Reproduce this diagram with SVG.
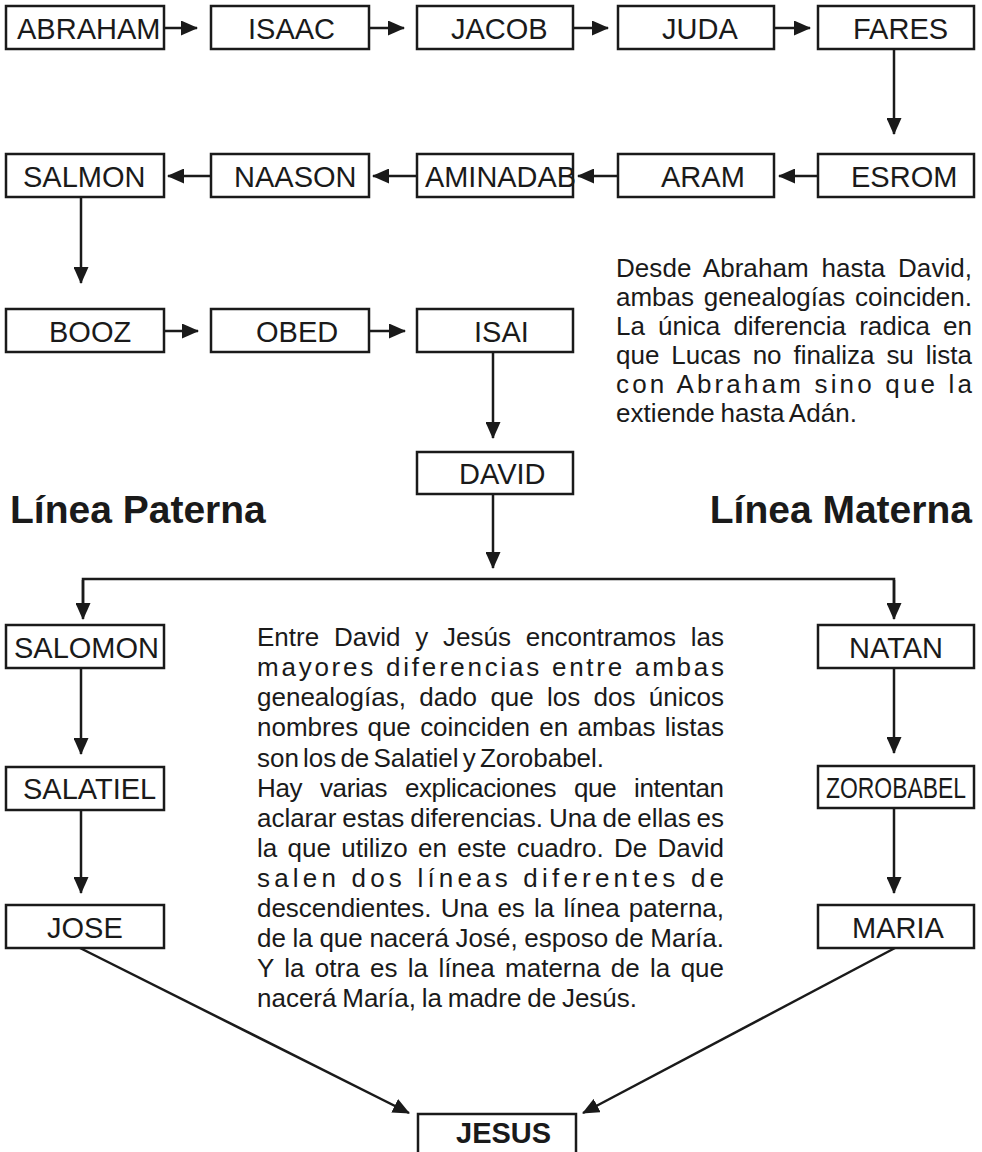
<svg xmlns="http://www.w3.org/2000/svg" width="982" height="1152" viewBox="0 0 982 1152">
<style>
.box{fill:#fff;stroke:#1a1a1a;stroke-width:2.5}
.lbl{font-family:"Liberation Sans",Arial,sans-serif;font-size:29px;fill:#1a1a1a}
.b{font-weight:bold}
.ln{fill:none;stroke:#1a1a1a;stroke-width:2.5}
.arr{marker-end:url(#ah)}
.par{font-family:"Liberation Sans",Arial,sans-serif;font-size:26px;fill:#1a1a1a}
.hd{font-family:"Liberation Sans",Arial,sans-serif;font-size:39px;font-weight:bold;fill:#1a1a1a}
</style>
<defs>
<marker id="ah" markerUnits="userSpaceOnUse" markerWidth="17" markerHeight="15" viewBox="0 0 17 15" refX="16" refY="7.5" orient="auto">
<path d="M0,0 L17,7.5 L0,15 z" fill="#1a1a1a"/>
</marker>
</defs>
<rect width="982" height="1152" fill="#fff"/>
<g id="connectors">
<line class="ln arr" x1="164" y1="28" x2="197" y2="28"/>
<line class="ln arr" x1="369" y1="28" x2="404" y2="28"/>
<line class="ln arr" x1="573" y1="28" x2="608" y2="28"/>
<line class="ln arr" x1="774" y1="28" x2="810" y2="28"/>
<line class="ln arr" x1="894" y1="49" x2="894" y2="134"/>
<line class="ln arr" x1="818" y1="176" x2="779" y2="176"/>
<line class="ln arr" x1="618" y1="176" x2="578" y2="176"/>
<line class="ln arr" x1="417" y1="176" x2="373" y2="176"/>
<line class="ln arr" x1="211" y1="176" x2="168" y2="176"/>
<line class="ln arr" x1="81" y1="197" x2="81" y2="283"/>
<line class="ln arr" x1="164" y1="331" x2="198" y2="331"/>
<line class="ln arr" x1="369" y1="331" x2="405" y2="331"/>
<line class="ln arr" x1="493" y1="352" x2="493" y2="438"/>
<line class="ln arr" x1="493" y1="494" x2="493" y2="568"/>
<path class="ln" d="M83,605 V579 H894 V605"/>
<line class="ln arr" x1="83" y1="580" x2="83" y2="619"/>
<line class="ln arr" x1="894" y1="580" x2="894" y2="619"/>
<line class="ln arr" x1="81" y1="668" x2="81" y2="754"/>
<line class="ln arr" x1="81" y1="810" x2="81" y2="893"/>
<line class="ln arr" x1="894" y1="668" x2="894" y2="753"/>
<line class="ln arr" x1="894" y1="808" x2="894" y2="893"/>
<line class="ln arr" x1="80" y1="948" x2="409" y2="1113"/>
<line class="ln arr" x1="895" y1="948" x2="583" y2="1113"/>
</g>
<g id="abraham"><rect class="box" x="6" y="6" width="158" height="43"/><text class="lbl" x="17" y="39">ABRAHAM</text></g>
<g id="isaac"><rect class="box" x="211" y="6" width="158" height="43"/><text class="lbl" x="248" y="39">ISAAC</text></g>
<g id="jacob"><rect class="box" x="417" y="6" width="156" height="43"/><text class="lbl" x="451" y="39">JACOB</text></g>
<g id="juda"><rect class="box" x="618" y="6" width="156" height="43"/><text class="lbl" x="662" y="39">JUDA</text></g>
<g id="fares"><rect class="box" x="818" y="6" width="156" height="43"/><text class="lbl" x="853" y="39">FARES</text></g>
<g id="esrom"><rect class="box" x="818" y="154" width="156" height="43"/><text class="lbl" x="851" y="187">ESROM</text></g>
<g id="aram"><rect class="box" x="618" y="154" width="156" height="43"/><text class="lbl" x="661" y="187">ARAM</text></g>
<g id="aminadab"><rect class="box" x="417" y="154" width="156" height="43"/><text class="lbl" x="425" y="187" textLength="151" lengthAdjust="spacingAndGlyphs">AMINADAB</text></g>
<g id="naason"><rect class="box" x="211" y="154" width="158" height="43"/><text class="lbl" x="234" y="187">NAASON</text></g>
<g id="salmon"><rect class="box" x="6" y="154" width="158" height="43"/><text class="lbl" x="23" y="187">SALMON</text></g>
<g id="booz"><rect class="box" x="6" y="309" width="158" height="43"/><text class="lbl" x="49" y="342">BOOZ</text></g>
<g id="obed"><rect class="box" x="211" y="309" width="158" height="43"/><text class="lbl" x="256" y="342">OBED</text></g>
<g id="isai"><rect class="box" x="417" y="309" width="156" height="43"/><text class="lbl" x="474" y="342">ISAI</text></g>
<g id="david"><rect class="box" x="417" y="452" width="156" height="42"/><text class="lbl" x="459" y="484">DAVID</text></g>
<g id="salomon"><rect class="box" x="6" y="625" width="158" height="43"/><text class="lbl" x="14" y="658">SALOMON</text></g>
<g id="salatiel"><rect class="box" x="6" y="767" width="158" height="43"/><text class="lbl" x="23" y="799">SALATIEL</text></g>
<g id="jose"><rect class="box" x="6" y="905" width="158" height="43"/><text class="lbl" x="47" y="938">JOSE</text></g>
<g id="natan"><rect class="box" x="818" y="625" width="156" height="43"/><text class="lbl" x="849" y="658">NATAN</text></g>
<g id="zorobabel"><rect class="box" x="818" y="766" width="156" height="42"/><text class="lbl" x="826" y="798" font-size="28" textLength="140" lengthAdjust="spacingAndGlyphs">ZOROBABEL</text></g>
<g id="maria"><rect class="box" x="818" y="905" width="156" height="43"/><text class="lbl" x="852" y="938">MARIA</text></g>
<g id="jesus"><rect class="box" x="418" y="1114" width="158" height="46"/><text class="lbl b" x="456" y="1143">JESUS</text></g>
<g id="headings">
<text class="hd" x="10" y="523">Línea Paterna</text>
<text class="hd" x="972" y="523" text-anchor="end">Línea Materna</text>
</g>
<g id="note-top">
<text class="par" x="616" y="277" word-spacing="5.5" textLength="356" lengthAdjust="spacing">Desde Abraham hasta David,</text>
<text class="par" x="616" y="306" word-spacing="2.5" textLength="356" lengthAdjust="spacing">ambas genealogías coinciden.</text>
<text class="par" x="616" y="335" word-spacing="6" textLength="356" lengthAdjust="spacing">La única diferencia radica en</text>
<text class="par" x="616" y="364" word-spacing="4.8" textLength="356" lengthAdjust="spacing">que Lucas no finaliza su lista</text>
<text class="par" x="616" y="393" textLength="356" lengthAdjust="spacing">con Abraham sino que la</text>
<text class="par" x="616" y="422" word-spacing="-1.5" textLength="241" lengthAdjust="spacing">extiende hasta Adán.</text>
</g>
<g id="note-middle">
<text class="par" x="257" y="646" word-spacing="7.6" textLength="467" lengthAdjust="spacing">Entre David y Jesús encontramos las</text>
<text class="par" x="257" y="676" textLength="467" lengthAdjust="spacing">mayores diferencias entre ambas</text>
<text class="par" x="257" y="706" word-spacing="6.1" textLength="467" lengthAdjust="spacing">genealogías, dado que los dos únicos</text>
<text class="par" x="257" y="736" word-spacing="2.1" textLength="467" lengthAdjust="spacing">nombres que coinciden en ambas listas</text>
<text class="par" x="257" y="767" word-spacing="-3" textLength="347" lengthAdjust="spacing">son los de Salatiel y Zorobabel.</text>
<text class="par" x="257" y="797" word-spacing="11" textLength="467" lengthAdjust="spacing">Hay varias explicaciones que intentan</text>
<text class="par" x="257" y="827" word-spacing="-1.3" textLength="467" lengthAdjust="spacing">aclarar estas diferencias. Una de ellas es</text>
<text class="par" x="257" y="857" word-spacing="3.1" textLength="467" lengthAdjust="spacing">la que utilizo en este cuadro. De David</text>
<text class="par" x="257" y="887" textLength="467" lengthAdjust="spacing">salen dos líneas diferentes de</text>
<text class="par" x="257" y="917" word-spacing="2" textLength="467" lengthAdjust="spacing">descendientes. Una es la línea paterna,</text>
<text class="par" x="257" y="947" word-spacing="-0.6" textLength="467" lengthAdjust="spacing">de la que nacerá José, esposo de María.</text>
<text class="par" x="257" y="977" word-spacing="3.2" textLength="467" lengthAdjust="spacing">Y la otra es la línea materna de la que</text>
<text class="par" x="257" y="1007" word-spacing="-1.4" textLength="380" lengthAdjust="spacing">nacerá María, la madre de Jesús.</text>
</g>
</svg>
